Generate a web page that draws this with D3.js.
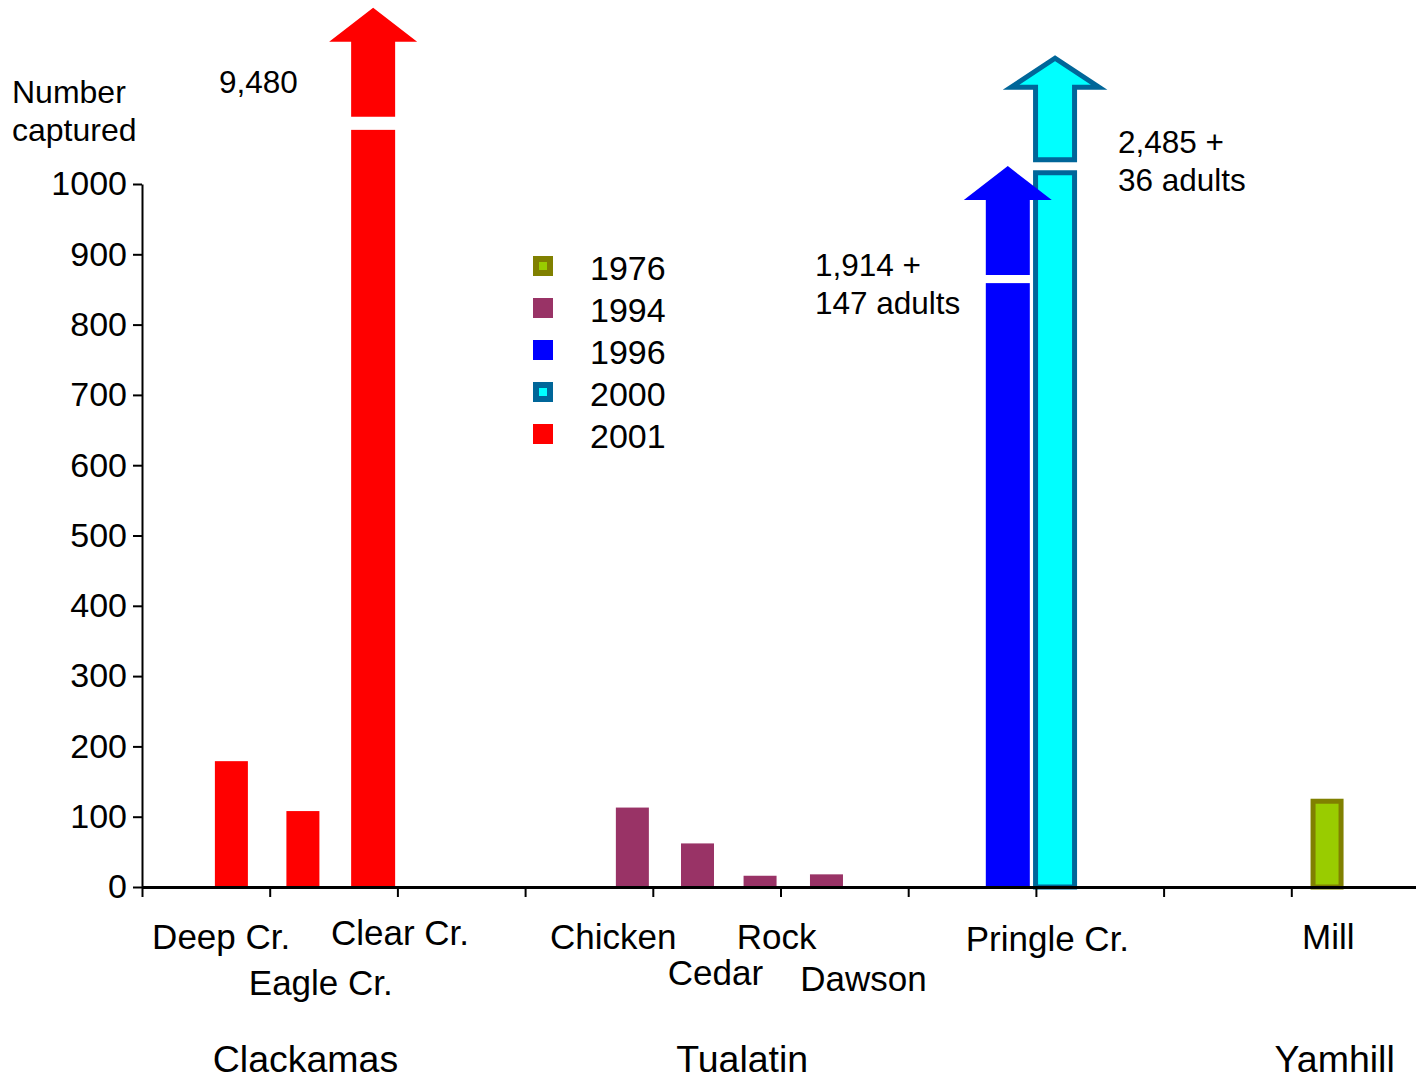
<!DOCTYPE html>
<html>
<head>
<meta charset="utf-8">
<script src="https://cdn.jsdelivr.net/npm/d3@7"></script>
<style>
  body { margin: 0; background: #fff; }
  svg text { font-family: Arial, "Liberation Sans", sans-serif; fill: #000; }
</style>
</head>
<body>
<div id="chart"></div>
<script>
// ---- data ----
const sites = ["Deep Cr.", "Eagle Cr.", "Clear Cr.", "Chicken", "Cedar", "Rock", "Dawson", "Pringle Cr.", "Pringle Cr.", "Mill"];
const siteYear = ["2001", "2001", "2001", "1994", "1994", "1994", "1994", "1996", "2000", "1976"];
// position of each bar along the x axis (axis units, one unit per tick interval)
const sitePos = [0.70, 1.26, 1.81, 3.84, 4.35, 4.84, 5.36, 6.78, 7.15, 9.28];
const captured = [179, 108, 9480, 113, 62, 16, 18, 1914, 2485, 122];
// for off-scale bars: level on the axis where the bar is cut
const breakLevel = [null, null, 1077, null, null, null, null, 859, 1016, null];

const years = ["1976", "1994", "1996", "2000", "2001"];
const yTicks = [0, 100, 200, 300, 400, 500, 600, 700, 800, 900, 1000];
const groups = ["Clackamas", "Tualatin", "Yamhill"];

const notes = [["9,480"], ["1,914 +", "147 adults"], ["2,485 +", "36 adults"]];

// ---- styles ----
const fillColor = { "1976": "#99CC00", "1994": "#993366", "1996": "#0000FF", "2000": "#00FFFF", "2001": "#FF0000" };
const strokeColor = { "1976": "#808000", "2000": "#006699" };

const width = 1416, height = 1079;
const svg = d3.select("#chart").append("svg")
  .attr("width", width)
  .attr("height", height);

const x = d3.scaleLinear().domain([0, 10]).range([142, 1419]);
const y = d3.scaleLinear().domain([0, 1000]).range([887, 184]);

// y axis
const yAxis = svg.append("g")
  .attr("transform", `translate(${x(0)},0)`)
  .call(d3.axisLeft(y).tickValues(yTicks).tickFormat(d3.format("d"))
    .tickSize(9).tickPadding(6).tickSizeOuter(0));
yAxis.select(".domain").attr("stroke", "#000").attr("stroke-width", 2);
yAxis.selectAll(".tick line").attr("stroke", "#000").attr("stroke-width", 2);
yAxis.selectAll(".tick text").attr("font-size", "34px").attr("fill", "#000")
  .attr("font-family", "Arial, 'Liberation Sans', sans-serif");

// bars
const bars = sites.map((s, i) => ({
  site: s, year: siteYear[i], pos: sitePos[i], value: captured[i], cut: breakLevel[i]
}));

const plainW = 33, wideW = 44;
bars.forEach(d => {
  const stroked = strokeColor[d.year] !== undefined;
  const sw = stroked ? 5 : 0;
  const w = (d.cut ? wideW : plainW) - sw;
  const top = y(d.cut ? d.cut : d.value);
  svg.append("rect")
    .attr("x", x(d.pos) - w / 2)
    .attr("y", top)
    .attr("width", w)
    .attr("height", y(0) - top)
    .attr("fill", fillColor[d.year])
    .attr("stroke", stroked ? strokeColor[d.year] : "none")
    .attr("stroke-width", sw);
});

// arrows above the cut bars
const shaftLen = 75, headLen = 34, headHalf = 44;
bars.filter(d => d.cut).forEach(d => {
  const stroked = strokeColor[d.year] !== undefined;
  const sw = stroked ? 5 : 0;
  const w = wideW - sw;
  const cx = x(d.pos);
  const gap = d.year === "1996" ? 8 : 13;
  const b = y(d.cut) - gap;
  const hb = b - shaftLen + sw * 0.5;
  const tip = hb - headLen + sw;
  const pts = [
    [cx - w / 2, b], [cx - w / 2, hb], [cx - headHalf, hb], [cx, tip],
    [cx + headHalf, hb], [cx + w / 2, hb], [cx + w / 2, b]
  ];
  svg.append("path")
    .attr("d", d3.line()(pts) + "Z")
    .attr("fill", fillColor[d.year])
    .attr("stroke", stroked ? strokeColor[d.year] : "none")
    .attr("stroke-width", sw)
    .attr("stroke-linejoin", "miter");
});

// x axis (drawn over bar bottoms)
const xAxis = svg.append("g")
  .attr("transform", `translate(0,${y(0)})`)
  .call(d3.axisBottom(x).tickValues(d3.range(0, 10)).tickSize(10).tickFormat("").tickSizeOuter(0));
xAxis.select(".domain").attr("stroke", "#000").attr("stroke-width", 3);
xAxis.selectAll(".tick line").attr("stroke", "#000").attr("stroke-width", 2);

// site labels
const siteLabelPos = [
  [0.62, 937], [1.40, 983], [2.02, 933], [3.69, 937], [4.49, 973],
  [4.97, 937], [5.65, 979], [7.09, 939], null, [9.29, 937]
];
bars.forEach((d, i) => {
  const p = siteLabelPos[i];
  if (!p) return;
  svg.append("text")
    .attr("x", x(p[0]))
    .attr("y", p[1])
    .attr("dy", "0.35em")
    .attr("text-anchor", "middle")
    .attr("font-size", "35px")
    .text(d.site);
});

// group labels
const groupLabelPos = [[1.28, 1059], [4.70, 1059], [9.34, 1059]];
groups.forEach((g, i) => {
  svg.append("text")
    .attr("x", x(groupLabelPos[i][0]))
    .attr("y", groupLabelPos[i][1])
    .attr("dy", "0.35em")
    .attr("text-anchor", "middle")
    .attr("font-size", "37.5px")
    .text(g);
});

// y title
svg.append("text")
  .attr("font-size", "32px")
  .selectAll("tspan")
  .data(["Number", "captured"])
  .join("tspan")
  .attr("x", 12)
  .attr("y", (d, i) => 103 + i * 38)
  .text(d => d);

// value notes
const notePos = [[219, 93], [815, 276], [1118, 153]];
notes.forEach((lines, i) => {
  svg.append("text")
    .attr("font-size", "31.5px")
    .selectAll("tspan")
    .data(lines)
    .join("tspan")
    .attr("x", notePos[i][0])
    .attr("y", (d, j) => notePos[i][1] + j * 38)
    .text(d => d);
});

// legend
const legend = svg.append("g").attr("transform", "translate(533,256)");
years.forEach((yr, i) => {
  const g = legend.append("g").attr("transform", `translate(0,${i * 42})`);
  const stroked = strokeColor[yr] !== undefined;
  g.append("rect")
    .attr("x", stroked ? 3 : 0)
    .attr("y", stroked ? 3 : 0)
    .attr("width", stroked ? 14 : 20)
    .attr("height", stroked ? 14 : 20)
    .attr("fill", fillColor[yr])
    .attr("stroke", stroked ? strokeColor[yr] : "none")
    .attr("stroke-width", stroked ? 6 : 0);
  g.append("text")
    .attr("x", 57)
    .attr("y", 10)
    .attr("dy", "0.4em")
    .attr("font-size", "34px")
    .text(yr);
});
</script>
</body>
</html>
